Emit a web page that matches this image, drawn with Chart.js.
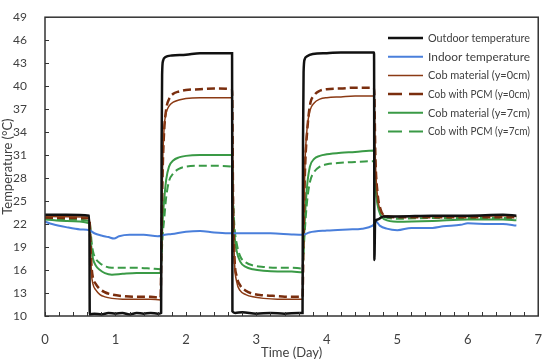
<!DOCTYPE html>
<html>
<head>
<meta charset="utf-8">
<script src="https://cdn.jsdelivr.net/npm/chart.js@4"></script>
<style>
  html, body { margin: 0; padding: 0; background: #fff; }
  #wrap { width: 550px; height: 363px; }
</style>
</head>
<body>
<div id="wrap"><canvas id="tempChart"></canvas></div>
<script>
// Outdoor / indoor temperature (day, °C)
const outdoorTime = [0, 0.3, 0.63, 0.635, 0.7, 0.8, 0.9, 1.0, 1.1, 1.2, 1.3, 1.4, 1.5, 1.6, 1.648, 1.655, 1.662, 1.675, 1.71, 1.8, 2.0, 2.2, 2.4, 2.655, 2.66, 2.7, 2.8, 3.0, 3.2, 3.4, 3.6, 3.655, 3.662, 3.67, 3.685, 3.72, 3.8, 4.0, 4.2, 4.4, 4.67, 4.675, 4.685, 4.72, 4.8, 5.0, 5.5, 6.0, 6.5, 6.69];
const outdoorTemp = [23.2, 23.2, 23.1, 10.2, 10.3, 10.2, 10.4, 10.3, 10.4, 10.2, 10.4, 10.3, 10.4, 10.3, 10.4, 32, 41.5, 43.3, 43.8, 44.0, 44.1, 44.3, 44.3, 44.3, 10.6, 10.4, 10.5, 10.3, 10.4, 10.3, 10.4, 10.4, 33, 41.8, 43.5, 43.9, 44.2, 44.3, 44.4, 44.4, 44.4, 17.3, 22.3, 22.6, 23.0, 23.0, 23.1, 23.1, 23.2, 23.1];

const indoorTime = [0, 0.1, 0.3, 0.5, 0.63, 0.7, 0.8, 0.9, 0.98, 1.05, 1.2, 1.4, 1.6, 1.7, 1.8, 2.0, 2.2, 2.4, 2.6, 2.8, 3.0, 3.2, 3.5, 3.66, 3.75, 4.0, 4.3, 4.5, 4.65, 4.7, 4.75, 4.85, 5.0, 5.2, 5.5, 5.65, 5.9, 6.0, 6.3, 6.5, 6.69];
const indoorTemp = [22.3, 22.0, 21.6, 21.3, 21.2, 20.8, 20.5, 20.3, 20.1, 20.4, 20.6, 20.6, 20.4, 20.6, 20.7, 21.0, 21.1, 20.9, 20.8, 20.8, 20.8, 20.8, 20.65, 20.6, 20.9, 21.15, 21.3, 21.4, 21.8, 22.3, 21.8, 21.4, 21.2, 21.5, 21.5, 21.7, 21.9, 22.1, 22.0, 22.0, 21.8];

// Wall samples share one time base
const cobTime = [0, 0.3, 0.63, 0.645, 0.66, 0.68, 0.72, 0.78, 0.85, 0.95, 1.1, 1.3, 1.5, 1.64, 1.655, 1.67, 1.69, 1.72, 1.76, 1.82, 1.9, 2.0, 2.2, 2.4, 2.655, 2.67, 2.69, 2.72, 2.77, 2.85, 2.95, 3.1, 3.3, 3.5, 3.655, 3.67, 3.69, 3.72, 3.76, 3.82, 3.9, 4.0, 4.2, 4.4, 4.67, 4.69, 4.72, 4.76, 4.82, 5.0, 5.5, 6.0, 6.5, 6.69];
const cobY0 = [23.0, 22.95, 22.9, 19, 15.5, 14.2, 13.4, 12.8, 12.5, 12.3, 12.2, 12.2, 12.2, 12.1, 22, 30, 34.5, 36.5, 37.4, 37.9, 38.2, 38.4, 38.5, 38.5, 38.5, 24, 17, 14.5, 13.3, 12.8, 12.5, 12.3, 12.2, 12.2, 12.2, 22, 30, 34.5, 36.8, 37.8, 38.3, 38.5, 38.6, 38.7, 38.7, 30, 25.5, 23.8, 23.1, 23.0, 23.0, 23.0, 23.1, 23.0];
const pcmY0 = [22.85, 22.8, 22.75, 19.5, 16.5, 15.0, 14.2, 13.5, 13.1, 12.8, 12.6, 12.5, 12.5, 12.4, 21, 29, 34, 37, 38.3, 39.0, 39.3, 39.5, 39.6, 39.7, 39.6, 24.5, 17.5, 15.2, 14.0, 13.3, 12.9, 12.7, 12.6, 12.5, 12.5, 21, 29, 34, 37.5, 38.8, 39.4, 39.6, 39.7, 39.8, 39.8, 30.5, 26, 24, 23.1, 22.9, 22.9, 22.9, 22.9, 22.9];
const cobY7 = [22.6, 22.4, 22.1, 20.5, 18.8, 17.5, 16.6, 16.0, 15.6, 15.4, 15.5, 15.6, 15.6, 15.6, 19, 22.5, 25, 27.8, 29.5, 30.3, 30.7, 30.9, 31.0, 31.0, 31.0, 24, 20.5, 18.5, 17.1, 16.4, 16.1, 15.9, 15.8, 15.8, 15.7, 19, 23, 27, 29.5, 30.5, 30.9, 31.1, 31.3, 31.4, 31.6, 27, 24.5, 23.2, 22.6, 22.3, 22.4, 22.6, 22.6, 22.5];
const pcmY7 = [22.8, 22.6, 22.4, 21.5, 19.8, 18.5, 17.5, 16.9, 16.5, 16.3, 16.3, 16.3, 16.2, 16.1, 18, 20.5, 22.5, 25.5, 27.6, 28.6, 29.2, 29.5, 29.6, 29.6, 29.5, 25, 21.5, 19.5, 17.8, 17.0, 16.6, 16.4, 16.3, 16.3, 16.2, 18.5, 21.5, 25, 27.5, 28.8, 29.5, 29.8, 30.0, 30.1, 30.2, 27.5, 25, 23.5, 22.9, 22.7, 22.8, 22.8, 22.8, 22.8];

const FONT = 'Lato, "Liberation Sans", sans-serif';
const TEXT = '#404040';

const pts = (t, v) => t.map((x, i) => ({x: x, y: v[i]}));

function series(label, t, v, color, width, dash) {
    return {
        label: label,
        data: pts(t, v),
        borderColor: color,
        backgroundColor: color,
        borderWidth: width,
        borderDash: dash || [],
        pointRadius: 0,
        fill: false,
        cubicInterpolationMode: 'monotone'
    };
}

// inward tick marks, plot frame and legend
const frame = {
    id: 'frame',
    afterDraw(chart) {
        const ctx = chart.ctx;
        const a = chart.chartArea;
        const xs = chart.scales.x, ys = chart.scales.y;
        ctx.save();
        ctx.strokeStyle = '#333';
        ctx.lineWidth = 1;
        ctx.beginPath();
        for (let i = 0; i <= 35; i++) {
            const px = Math.round(xs.getPixelForValue(i / 5)) + 0.5;
            ctx.moveTo(px, a.bottom);
            ctx.lineTo(px, a.bottom - 4);
        }
        for (let v = 10; v <= 49; v += 3) {
            const py = Math.round(ys.getPixelForValue(v)) + 0.5;
            ctx.moveTo(a.left, py);
            ctx.lineTo(a.left + 4, py);
        }
        ctx.stroke();
        ctx.lineWidth = 1.5;
        ctx.strokeRect(a.left, a.top, a.right - a.left, a.bottom - a.top);

        // legend
        ctx.font = '12px ' + FONT;
        ctx.fillStyle = TEXT;
        ctx.textBaseline = 'middle';
        chart.data.datasets.forEach((ds, i) => {
            const y = 38 + i * 18.7;
            ctx.beginPath();
            ctx.strokeStyle = ds.borderColor;
            ctx.lineWidth = ds.borderWidth;
            ctx.setLineDash(ds.borderDash.length ? [14, 7] : []);
            ctx.moveTo(388, y);
            ctx.lineTo(423, y);
            ctx.stroke();
            ctx.setLineDash([]);
            ctx.fillText(ds.label, 428, y, 102);
        });
        ctx.restore();
    }
};

new Chart(document.getElementById('tempChart'), {
    type: 'line',
    data: {
        datasets: [
            series('Outdoor temperature', outdoorTime, outdoorTemp, '#111111', 2.5),
            series('Indoor temperature', indoorTime, indoorTemp, '#4A7FDB', 2),
            series('Cob material (y=0cm)', cobTime, cobY0, '#8B3A14', 1.5),
            series('Cob with PCM (y=0cm)', cobTime, pcmY0, '#7A2E0E', 2.5, [8, 4]),
            series('Cob material (y=7cm)', cobTime, cobY7, '#3A9A46', 2),
            series('Cob with PCM (y=7cm)', cobTime, pcmY7, '#3A9A46', 2, [8, 4])
        ]
    },
    options: {
        responsive: true,
        maintainAspectRatio: false,
        animation: false,
        layout: { padding: { top: 7, right: 9, left: 0, bottom: 0 } },
        plugins: {
            legend: { display: false },
            tooltip: { enabled: false }
        },
        scales: {
            x: {
                type: 'linear',
                min: 0,
                max: 7,
                ticks: { stepSize: 1, padding: 8, color: TEXT, font: { family: FONT, size: 13 } },
                grid: { display: false },
                border: { display: false },
                title: {
                    display: true,
                    text: 'Time (Day)',
                    color: TEXT,
                    font: { family: FONT, size: 13 },
                    padding: { top: 0, bottom: 2 }
                },
                afterFit(scale) { scale.height = 47; }
            },
            y: {
                min: 10,
                max: 49,
                ticks: { stepSize: 3, padding: 10, color: TEXT, font: { family: FONT, size: 12 } },
                grid: { display: false },
                border: { display: false },
                title: {
                    display: true,
                    text: 'Temperature (°C)',
                    color: TEXT,
                    font: { family: FONT, size: 13 },
                    padding: { top: 0, bottom: 0 }
                },
                afterFit(scale) { scale.width = 45; }
            }
        }
    },
    plugins: [frame]
});
</script>
</body>
</html>
